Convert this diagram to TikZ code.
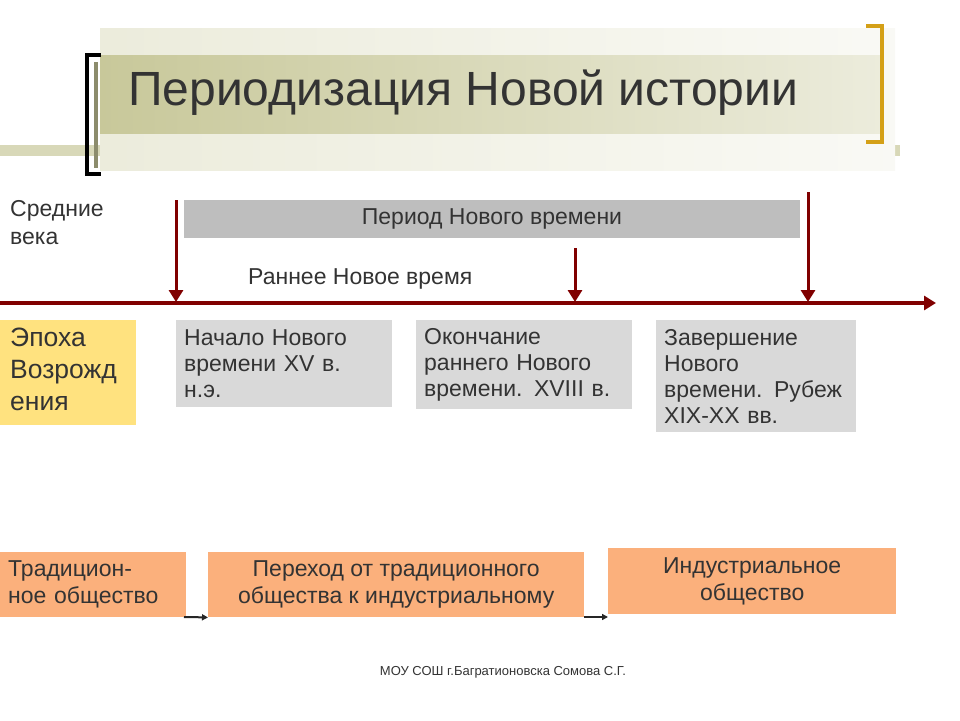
\documentclass[tikz,border=0pt]{standalone}
\usepackage{fontspec}
\setmainfont{Liberation Sans}
\usetikzlibrary{arrows.meta}
\definecolor{dred}{HTML}{800000}
\definecolor{gbox}{HTML}{D9D9D9}
\definecolor{obox}{HTML}{FBB07C}
\definecolor{ybox}{HTML}{FFE27F}
\definecolor{txt}{HTML}{333333}
\definecolor{olive}{HTML}{C8C89A}
\definecolor{gold}{HTML}{D4A017}
\tikzset{
  tl/.style={draw=dred,line width=4pt,-{Triangle[length=12pt,width=14pt]}},
  gb/.style={fill=gbox,draw=none,text=txt,align=left,anchor=north west,inner sep=8pt,font=\fontsize{23}{26}\selectfont},
  ob/.style={fill=obox,draw=none,text=txt,align=center,font=\fontsize{23}{27}\selectfont},
  sa/.style={draw=black!85,line width=2pt,-{Triangle[length=6pt,width=6pt]}}
}
\begin{document}
\begin{tikzpicture}[x=1pt,y=-1pt]
\useasboundingbox (0,0) rectangle (960,720);
% title banner
\fill[olive!70] (0,145) rectangle (900,156);
\shade[left color=olive!35,right color=olive!10] (100,28) rectangle (895,170);
\shade[left color=olive,right color=olive!35] (100,55) rectangle (880,133);
\draw[black,line width=4pt] (101,55) -- (87,55) -- (87,174) -- (101,174);
\draw[olive!70!black,line width=4pt] (96,62) -- (96,168);
\draw[gold,line width=4pt] (866,26) -- (882,26) -- (882,142) -- (866,142);
\node[anchor=base west,text=txt,font=\fontsize{48}{52}\selectfont,inner sep=0] (title) at (128,105) {Периодизация Новой истории};
% timeline
\coordinate (ts) at (0,303);
\coordinate (te) at (936,303);
\draw[tl] (ts) -- (te);
\coordinate (a1) at (176,200); \coordinate (b1) at (176,302);
\coordinate (a2) at (575,248); \coordinate (b2) at (575,302);
\coordinate (a3) at (808,192); \coordinate (b3) at (808,302);
\draw[tl,line width=3pt] (a1) -- (b1);
\draw[tl,line width=3pt] (a2) -- (b2);
\draw[tl,line width=3pt] (a3) -- (b3);
\node[fill=gbox!70!gray,minimum width=616pt,minimum height=38pt,inner sep=0,text=txt,font=\fontsize{23}{26}\selectfont] (period) at (492,219) {Период Нового времени};
\node[anchor=base west,text=txt,font=\fontsize{23}{26}\selectfont,inner sep=0] (early) at (248,284) {Раннее Новое время};
\node[anchor=north west,align=left,text=txt,font=\fontsize{23}{28}\selectfont,inner sep=0] (mid) at (10,200) {Средние\\века};
\node[fill=ybox,anchor=north west,minimum width=136pt,minimum height=105pt,inner sep=0] (ren) at (0,320) {};
\node[anchor=north west,align=left,text=txt,font=\fontsize{26.5}{32}\selectfont,inner sep=0] (rent) at (10,328) {Эпоха\\Возрожд\\ения};
\node[gb,minimum width=216pt,minimum height=87pt,text width=200pt] (g1) at (176,320) {Начало Нового\\времени XV в.\\н.э.};
\node[gb,minimum width=216pt,minimum height=87pt,text width=200pt] (g2) at (416,320) {Окончание\\раннего Нового\\времени. XVIII в.};
\node[gb,minimum width=200pt,minimum height=112pt,text width=184pt] (g3) at (656,320) {Завершение\\Нового\\времени. Рубеж\\XIX-XX вв.};
% bottom
\node[ob,minimum width=184pt,minimum height=65pt,anchor=north west,align=left,text width=170pt,inner sep=8pt] (o1) at (0,552) {Традицион-\\ное общество};
\node[ob,minimum width=376pt,minimum height=65pt,anchor=north west] (o2) at (208,552) {Переход от традиционного\\общества к индустриальному};
\node[ob,minimum width=288pt,minimum height=66pt,anchor=north west] (o3) at (608,548) {Индустриальное\\общество};
\coordinate (s1) at (184,617); \coordinate (s2) at (584,617); \coordinate (s3) at (608,617);
\draw[sa] (s1) -- (o2.south west);
\draw[sa] (s2) -- (s3);
\node[text=txt,font=\fontsize{13}{15}\selectfont] (foot) at (503,672) {МОУ СОШ г.Багратионовска Сомова С.Г.};
\end{tikzpicture}
\end{document}
